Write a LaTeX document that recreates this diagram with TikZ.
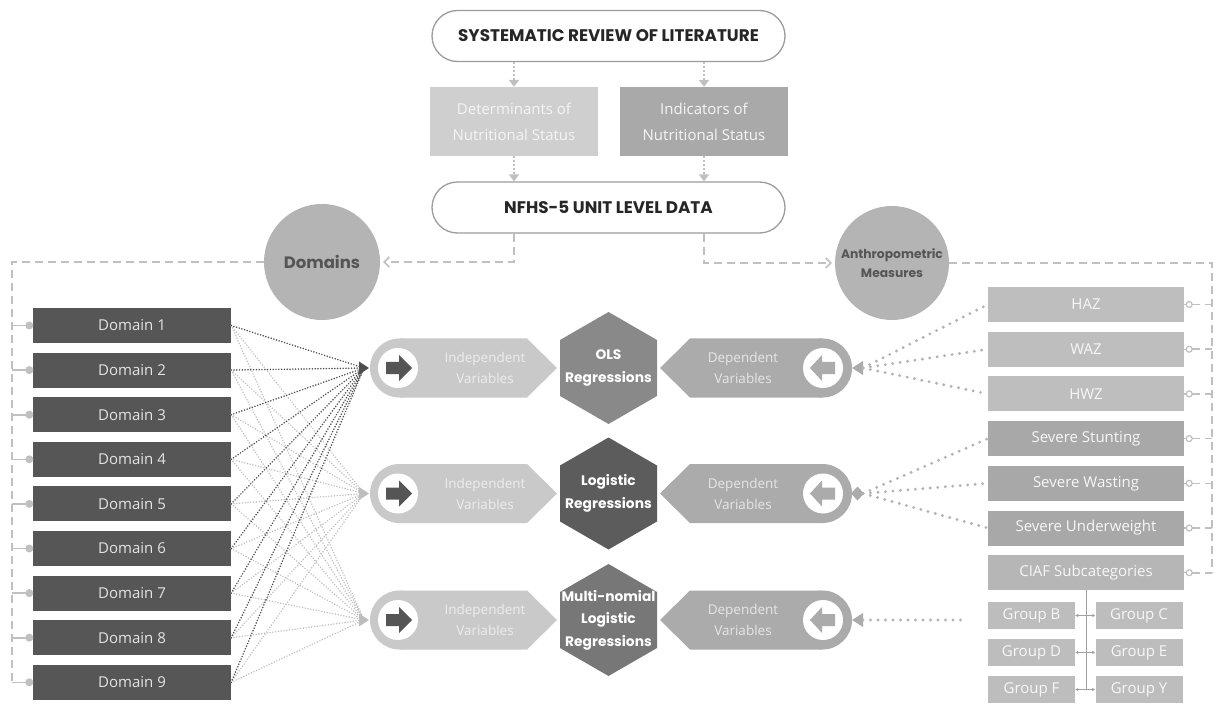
\documentclass[tikz,border=0pt]{standalone}
\usepackage{fontspec}
\setmainfont{Open Sans}
\newfontfamily\hdfont{Poppins}
\usetikzlibrary{arrows.meta}
\definecolor{domf}{HTML}{565656}
\definecolor{domt}{HTML}{E4E4E4}
\definecolor{circf}{HTML}{B4B4B4}
\definecolor{circt}{HTML}{555555}
\definecolor{detf}{HTML}{CFCFCF}
\definecolor{indbf}{HTML}{A9A9A9}
\definecolor{pillln}{HTML}{9C9C9C}
\definecolor{indf}{HTML}{C9C9C9}
\definecolor{indt}{HTML}{EDEDED}
\definecolor{depf}{HTML}{ABABAB}
\definecolor{dept}{HTML}{E6E6E6}
\definecolor{arrdark}{HTML}{555555}
\definecolor{hexa}{HTML}{898989}
\definecolor{hexb}{HTML}{5C5C5C}
\definecolor{hexc}{HTML}{777777}
\definecolor{lbox}{HTML}{BEBEBE}
\definecolor{sbox}{HTML}{A8A8A8}
\definecolor{cbox}{HTML}{B6B6B6}
\definecolor{gbox}{HTML}{BDBDBD}
\definecolor{lnlight}{HTML}{C0C0C0}
\definecolor{dotdark}{HTML}{4D4D4D}
\definecolor{dotlight}{HTML}{BDBDBD}
\definecolor{dotbig}{HTML}{B3B3B3}
\definecolor{grpln}{HTML}{A0A0A0}
\newcommand\bodyfont{\fontsize{15}{24}\selectfont}
\newcommand\regrow[5]{%
  \fill[indf] (399.5,#2) circle[radius=29.5];
  \fill[indf] (399.5,#2-29.5) -- (527,#2-29.5) -- (557,#2) -- (527,#2+29.5) -- (399.5,#2+29.5) -- cycle;
  \fill[white] (398,#2) circle[radius=20];
  \fill[arrdark] (386,#2-6) -- (399,#2-6) -- (399,#2-13) -- (412,#2) -- (399,#2+13) -- (399,#2+6) -- (386,#2+6) -- cycle;
  \node[pilltxt, text=indt] (#1i) at (485,#2) {Independent\\Variables};
  \fill[#3,shift={(608.5,#2)}] (30:56) -- (90:56) -- (150:56) -- (210:56) -- (270:56) -- (330:56) -- cycle;
  \node[hextxt] (#1h) at (608.5,#2) {#4};
  \fill[depf] (822.5,#2) circle[radius=29.5];
  \fill[depf] (660,#2) -- (690,#2-29.5) -- (822.5,#2-29.5) -- (822.5,#2+29.5) -- (690,#2+29.5) -- cycle;
  \fill[white] (823,#2) circle[radius=20];
  \fill[depf] (835,#2-6) -- (822,#2-6) -- (822,#2-13) -- (810,#2) -- (822,#2+13) -- (822,#2+6) -- (835,#2+6) -- cycle;
  \node[pilltxt, text=dept] (#1d) at (743,#2) {Dependent\\Variables};
  \fill[#5] (359,#2-6.5) -- (369,#2) -- (359,#2+6.5) -- cycle;
  \coordinate (#1L) at (364,#2);
  \coordinate (#1R) at (863,#2);
}
\begin{document}
\begin{tikzpicture}[x=1pt,y=-1pt,
  pill/.style={draw=pillln, line width=1.3pt, fill=white, rounded corners=25.5pt,
    minimum width=353pt, minimum height=51pt, inner sep=0pt,
    font=\hdfont\bfseries\fontsize{16.8}{19}\selectfont, text=black!85},
  topbox/.style={minimum width=168pt, minimum height=69pt, inner sep=0pt, align=center,
    text=white!96!black, font=\fontsize{15}{26}\selectfont},
  dombox/.style={fill=domf, minimum width=198pt, minimum height=35pt, inner sep=0pt,
    text=domt, font=\bodyfont},
  rbox/.style={minimum width=196pt, minimum height=35pt, inner sep=0pt,
    text=white!97!black, font=\bodyfont},
  gbx/.style={fill=gbox, minimum width=87pt, minimum height=27pt, inner sep=0pt,
    text=white!97!black, font=\bodyfont},
  bigcirc/.style={circle, fill=circf, inner sep=0pt, text=circt, align=center},
  pilltxt/.style={align=center, inner sep=0pt, font=\fontsize{13.5}{21}\selectfont},
  hextxt/.style={align=center, inner sep=0pt, text=white,
    font=\hdfont\bfseries\fontsize{13.8}{22.5}\selectfont},
  dotarr/.style={draw=lnlight, line width=2.2pt, dash pattern=on 2pt off 2pt,
    -{Triangle[length=7pt,width=10pt]}},
  dashln/.style={draw=lnlight, line width=1.6pt, dash pattern=on 8pt off 5pt},
  darkdots/.style={draw=dotdark, line width=1.7pt, line cap=round, dash pattern=on 0pt off 2.8pt},
  lightdots/.style={draw=dotlight, line width=1.6pt, line cap=round, dash pattern=on 0pt off 2.8pt},
  bigdots/.style={draw=dotbig, line width=3.2pt, line cap=round, dash pattern=on 0pt off 7.5pt},
  stubln/.style={draw=lnlight, line width=1.6pt},
  grparr/.style={draw=grpln, line width=0.9pt, {Latex[length=3pt,width=3.5pt]}-{Latex[length=3pt,width=3.5pt]}},
]
\useasboundingbox (0,0) rectangle (1215,708);
\fill[white] (0,0) rectangle (1215,708);

% top part
\node[pill] (srl) at (608.5,36) {SYSTEMATIC REVIEW OF LITERATURE};
\node[topbox, fill=detf] (det) at (514,121.5) {Determinants of\\Nutritional Status};
\node[topbox, fill=indbf] (ind) at (704,121.5) {Indicators of\\Nutritional Status};
\node[pill] (nfhs) at (608.5,207.5) {NFHS-5 UNIT LEVEL DATA};
\draw[dotarr] (det.north |- srl.south) -- (det.north);
\draw[dotarr] (ind.north |- srl.south) -- (ind.north);
\draw[dotarr] (det.south) -- (det.south |- nfhs.north);
\draw[dotarr] (ind.south) -- (ind.south |- nfhs.north);

% circles
\node[bigcirc, minimum size=116pt, font=\hdfont\bfseries\fontsize{16.5}{20}\selectfont] (domc) at (322,262) {Domains};
\node[bigcirc, minimum size=114pt, font=\hdfont\bfseries\fontsize{12.3}{19}\selectfont] (anth) at (892,263) {Anthropometric\\Measures};
\draw[dashln, -{Straight Barb[length=5pt,width=10pt]}] (det.south |- nfhs.south) -- (det.south |- domc.east) -- ([xshift=3pt]domc.east);
\draw[dashln, -{Straight Barb[length=5pt,width=10pt]}] (ind.south |- nfhs.south) -- (ind.south |- anth.west) -- ([xshift=-3pt]anth.west);

% domains
\foreach \i in {1,...,9}{
  \node[dombox] (d\i) at (132,{325.5+(\i-1)*44.6}) {Domain \i};
}
\coordinate (lt) at (12,262);
\draw[dashln] (domc.west) -- (lt) -- (lt |- d9.west);
\foreach \i in {1,...,9}{
  \draw[stubln] (d\i.west -| lt) -- ([xshift=-3pt]d\i.west);
  \fill[lnlight] ([xshift=-3.5pt]d\i.west) circle[radius=4];
}

% right boxes
\node[rbox, fill=lbox] (haz) at (1086,304.5) {HAZ};
\node[rbox, fill=lbox] (waz) at (1086,349.2) {WAZ};
\node[rbox, fill=lbox] (hwz) at (1086,393.9) {HWZ};
\node[rbox, fill=sbox] (sst) at (1086,438.6) {Severe Stunting};
\node[rbox, fill=sbox] (swa) at (1086,483.3) {Severe Wasting};
\node[rbox, fill=sbox] (sun) at (1086,528) {Severe Underweight};
\node[rbox, fill=cbox] (ciaf) at (1086,572.7) {CIAF Subcategories};
\node[gbx] (gB) at (1031.5,615.5) {Group B};
\node[gbx] (gC) at (1139,615.5) {Group C};
\node[gbx] (gD) at (1031.5,652.5) {Group D};
\node[gbx] (gE) at (1139,652.5) {Group E};
\node[gbx] (gF) at (1031.5,689.5) {Group F};
\node[gbx] (gY) at (1139,689.5) {Group Y};
\draw[draw=grpln, line width=0.9pt] (ciaf.south) -- (ciaf.south |- gF.east);
\draw[grparr] (gB.east) -- (gC.west);
\draw[grparr] (gD.east) -- (gE.west);
\draw[grparr] (gF.east) -- (gY.west);

\coordinate (rt) at (1212,263);
\draw[dashln] (anth.east) -- (rt) -- (rt |- ciaf.east);
\foreach \b in {haz,waz,hwz,sst,swa,sun,ciaf}{
  \draw[stubln, line width=1.2pt] (\b.east) -- ([xshift=2pt]\b.east);
  \draw[dashln] ([xshift=8pt]\b.east) -- (\b.east -| rt);
  \draw[draw=lnlight, line width=1.2pt, fill=white] ([xshift=5pt]\b.east) circle[radius=3];
}

% regression rows
\regrow{ols}{368}{hexa}{OLS\\Regressions}{dotdark}
\regrow{lgt}{493.5}{hexb}{Logistic\\Regressions}{dotlight}
\regrow{mnl}{620}{hexc}{Multi-nomial\\Logistic\\Regressions}{dotlight}

% left connectors
\foreach \i in {1,...,9}{
  \draw[lightdots] (d\i.east) -- (lgtL);
  \draw[lightdots] (d\i.east) -- (mnlL);
}
\foreach \i in {1,...,9}{
  \draw[darkdots] (d\i.east) -- (olsL);
}

% right connectors
\fill[depf] (852,368) -- (863,361) -- (863,375) -- cycle;
\fill[depf] (851,493.5) -- (857.5,486.5) -- (864,493.5) -- (857.5,500.5) -- cycle;
\fill[depf] (852,620) -- (863,613) -- (863,627) -- cycle;
\coordinate (mend) at (965,620);
\draw[bigdots] (olsR) -- (haz.west);
\draw[bigdots] (olsR) -- (waz.west);
\draw[bigdots] (olsR) -- (hwz.west);
\draw[bigdots] (lgtR) -- (sst.west);
\draw[bigdots] (lgtR) -- (swa.west);
\draw[bigdots] (lgtR) -- (sun.west);
\draw[bigdots] (mnlR) -- (mend);
\end{tikzpicture}
\end{document}
